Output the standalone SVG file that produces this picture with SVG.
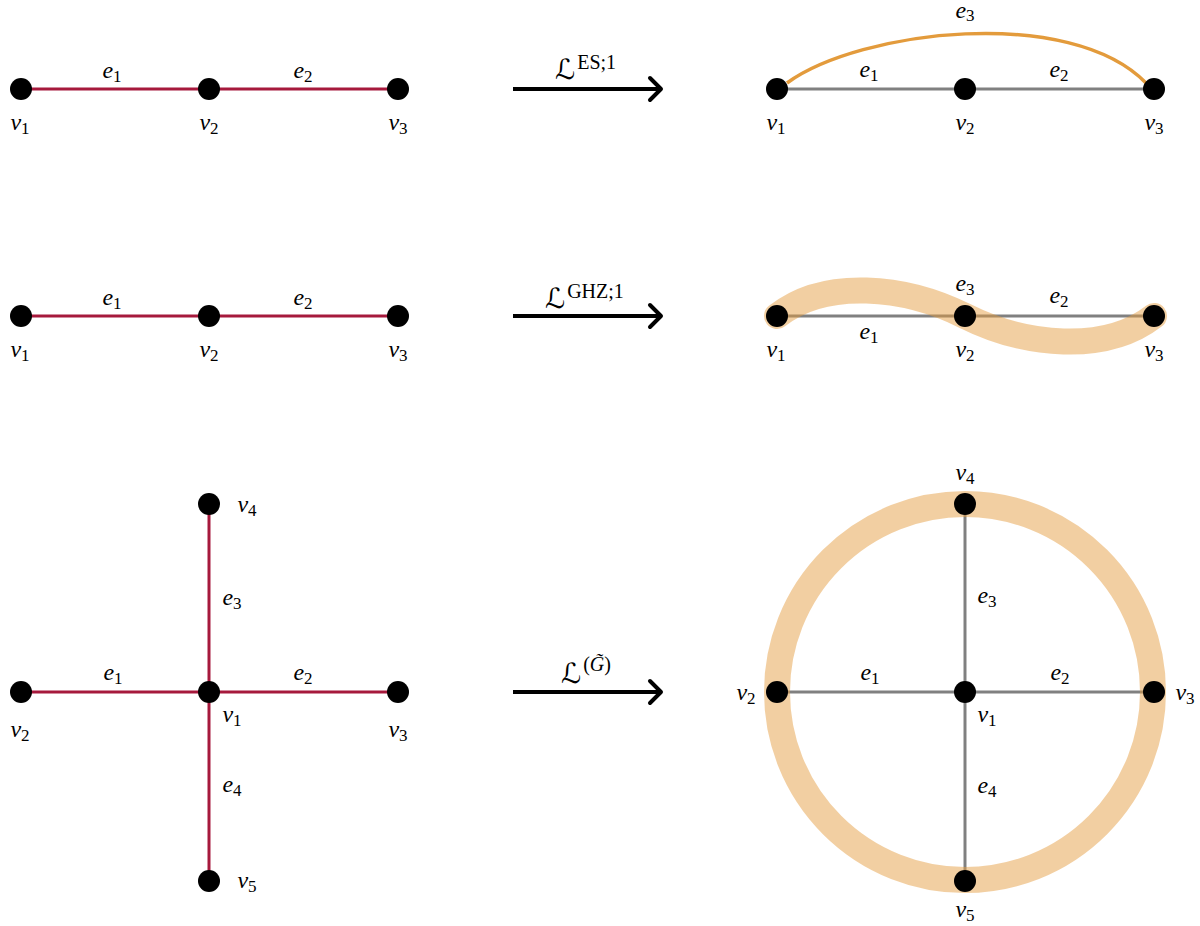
<svg xmlns="http://www.w3.org/2000/svg" width="1200" height="926" viewBox="0 0 1200 926">
<defs>
<style>
.bg{fill:#ffffff}
.n{fill:#000000}
.red{stroke:#A6193C;stroke-width:3;fill:none}
.gray{stroke:#808080;stroke-width:3;fill:none}
.es{stroke:#E39B3C;stroke-width:3.5;fill:none}
.hyp{stroke:#E39B3C;stroke-opacity:0.48;stroke-width:26;fill:none;stroke-linecap:round}
.arr{stroke:#000000;stroke-width:4;fill:none}
.lb{font-family:"Liberation Serif","Times New Roman",serif;font-style:italic;font-size:24px;fill:#000}
.sub{font-style:normal;font-size:17px}
.cal{font-family:"DejaVu Sans",sans-serif;font-style:normal;font-size:28px;fill:#000}
.sup{font-family:"Liberation Serif","Times New Roman",serif;font-style:normal;font-size:20px;fill:#000}
</style>
<marker id="head" markerUnits="userSpaceOnUse" markerWidth="24" markerHeight="30" refX="14" refY="13" orient="auto" overflow="visible">
<path d="M3,2 L14,13 L3,24" fill="none" stroke="#000" stroke-width="4" stroke-linecap="round" stroke-linejoin="round"/>
</marker>
</defs>
<rect class="bg" x="0" y="0" width="1200" height="926"/>

<g id="connectors">
<line class="red" x1="21" y1="89" x2="209" y2="89"/>
<line class="red" x1="209" y1="89" x2="398" y2="89"/>
<line class="gray" x1="777" y1="89" x2="965" y2="89"/>
<line class="gray" x1="965" y1="89" x2="1154" y2="89"/>
<path class="es" d="M787,83 C860,30 1070,5 1146,83"/>
<line class="red" x1="21" y1="316" x2="209" y2="316"/>
<line class="red" x1="209" y1="316" x2="398" y2="316"/>
<line class="gray" x1="777" y1="316" x2="965" y2="316"/>
<line class="gray" x1="965" y1="316" x2="1154" y2="316"/>
<path class="hyp" d="M777,316 C825,278 905,286 965,316 C1025,346 1105,354 1154,316"/>
<line class="red" x1="21" y1="692" x2="209" y2="692"/>
<line class="red" x1="209" y1="692" x2="398" y2="692"/>
<line class="red" x1="209" y1="504" x2="209" y2="692"/>
<line class="red" x1="209" y1="692" x2="209" y2="881"/>
<line class="gray" x1="777" y1="692" x2="965" y2="692"/>
<line class="gray" x1="965" y1="692" x2="1154" y2="692"/>
<line class="gray" x1="965" y1="504" x2="965" y2="692"/>
<line class="gray" x1="965" y1="692" x2="965" y2="881"/>
<circle class="hyp" cx="965" cy="692" r="188"/>
<line class="arr" x1="513" y1="89" x2="661" y2="89" marker-end="url(#head)"/>
<line class="arr" x1="513" y1="316" x2="661" y2="316" marker-end="url(#head)"/>
<line class="arr" x1="513" y1="692" x2="661" y2="692" marker-end="url(#head)"/>
</g>

<g id="edge-labels">
<text class="lb" x="112" y="78" text-anchor="middle">e<tspan class="sub" dy="4">1</tspan></text>
<text class="lb" x="303" y="78" text-anchor="middle">e<tspan class="sub" dy="4">2</tspan></text>
<text class="lb" x="869" y="77" text-anchor="middle">e<tspan class="sub" dy="4">1</tspan></text>
<text class="lb" x="1059" y="77" text-anchor="middle">e<tspan class="sub" dy="4">2</tspan></text>
<text class="lb" x="965" y="18" text-anchor="middle">e<tspan class="sub" dy="3">3</tspan></text>
<text class="lb" x="112" y="305" text-anchor="middle">e<tspan class="sub" dy="4">1</tspan></text>
<text class="lb" x="303" y="305" text-anchor="middle">e<tspan class="sub" dy="4">2</tspan></text>
<text class="lb" x="965" y="291" text-anchor="middle">e<tspan class="sub" dy="4">3</tspan></text>
<text class="lb" x="1059" y="303" text-anchor="middle">e<tspan class="sub" dy="4">2</tspan></text>
<text class="lb" x="869" y="339" text-anchor="middle">e<tspan class="sub" dy="4">1</tspan></text>
<text class="lb" x="113" y="680" text-anchor="middle">e<tspan class="sub" dy="4">1</tspan></text>
<text class="lb" x="303" y="680" text-anchor="middle">e<tspan class="sub" dy="4">2</tspan></text>
<text class="lb" x="232" y="605" text-anchor="middle">e<tspan class="sub" dy="4">3</tspan></text>
<text class="lb" x="232" y="792" text-anchor="middle">e<tspan class="sub" dy="4">4</tspan></text>
<text class="lb" x="870" y="680" text-anchor="middle">e<tspan class="sub" dy="4">1</tspan></text>
<text class="lb" x="1060" y="680" text-anchor="middle">e<tspan class="sub" dy="4">2</tspan></text>
<text class="lb" x="987" y="603" text-anchor="middle">e<tspan class="sub" dy="4">3</tspan></text>
<text class="lb" x="987" y="793" text-anchor="middle">e<tspan class="sub" dy="4">4</tspan></text>
</g>

<g id="arrow-labels">
<text x="555" y="79"><tspan class="cal">ℒ</tspan><tspan class="sup" dx="2" dy="-10">ES;1</tspan></text>
<text x="545" y="308"><tspan class="cal">ℒ</tspan><tspan class="sup" dx="2" dy="-10">GHZ;1</tspan></text>
<text x="561" y="683"><tspan class="cal">ℒ</tspan><tspan class="sup" dx="2" dy="-12">(<tspan font-style="italic">G̃</tspan>)</tspan></text>
</g>

<g id="r1l-v1"><circle class="n" cx="21" cy="89" r="11"/><text class="lb" x="20" y="130" text-anchor="middle">v<tspan class="sub" dy="4">1</tspan></text></g>
<g id="r1l-v2"><circle class="n" cx="209" cy="89" r="11"/><text class="lb" x="209" y="130" text-anchor="middle">v<tspan class="sub" dy="4">2</tspan></text></g>
<g id="r1l-v3"><circle class="n" cx="398" cy="89" r="11"/><text class="lb" x="398" y="130" text-anchor="middle">v<tspan class="sub" dy="4">3</tspan></text></g>
<g id="r1r-v1"><circle class="n" cx="777" cy="89" r="11"/><text class="lb" x="776" y="130" text-anchor="middle">v<tspan class="sub" dy="4">1</tspan></text></g>
<g id="r1r-v2"><circle class="n" cx="965" cy="89" r="11"/><text class="lb" x="965" y="130" text-anchor="middle">v<tspan class="sub" dy="4">2</tspan></text></g>
<g id="r1r-v3"><circle class="n" cx="1154" cy="89" r="11"/><text class="lb" x="1154" y="130" text-anchor="middle">v<tspan class="sub" dy="4">3</tspan></text></g>
<g id="r2l-v1"><circle class="n" cx="21" cy="316" r="11"/><text class="lb" x="20" y="357" text-anchor="middle">v<tspan class="sub" dy="4">1</tspan></text></g>
<g id="r2l-v2"><circle class="n" cx="209" cy="316" r="11"/><text class="lb" x="209" y="357" text-anchor="middle">v<tspan class="sub" dy="4">2</tspan></text></g>
<g id="r2l-v3"><circle class="n" cx="398" cy="316" r="11"/><text class="lb" x="398" y="357" text-anchor="middle">v<tspan class="sub" dy="4">3</tspan></text></g>
<g id="r2r-v1"><circle class="n" cx="777" cy="316" r="11"/><text class="lb" x="776" y="357" text-anchor="middle">v<tspan class="sub" dy="4">1</tspan></text></g>
<g id="r2r-v2"><circle class="n" cx="965" cy="316" r="11"/><text class="lb" x="965" y="357" text-anchor="middle">v<tspan class="sub" dy="4">2</tspan></text></g>
<g id="r2r-v3"><circle class="n" cx="1154" cy="316" r="11"/><text class="lb" x="1154" y="357" text-anchor="middle">v<tspan class="sub" dy="4">3</tspan></text></g>
<g id="r3l-v1"><circle class="n" cx="209" cy="692" r="11"/><text class="lb" x="232" y="722" text-anchor="middle">v<tspan class="sub" dy="4">1</tspan></text></g>
<g id="r3l-v2"><circle class="n" cx="21" cy="692" r="11"/><text class="lb" x="20" y="737" text-anchor="middle">v<tspan class="sub" dy="4">2</tspan></text></g>
<g id="r3l-v3"><circle class="n" cx="398" cy="692" r="11"/><text class="lb" x="398" y="737" text-anchor="middle">v<tspan class="sub" dy="4">3</tspan></text></g>
<g id="r3l-v4"><circle class="n" cx="209" cy="504" r="11"/><text class="lb" x="247" y="512" text-anchor="middle">v<tspan class="sub" dy="4">4</tspan></text></g>
<g id="r3l-v5"><circle class="n" cx="209" cy="881" r="11"/><text class="lb" x="247" y="888" text-anchor="middle">v<tspan class="sub" dy="4">5</tspan></text></g>
<g id="r3r-v1"><circle class="n" cx="965" cy="692" r="11"/><text class="lb" x="987" y="722" text-anchor="middle">v<tspan class="sub" dy="4">1</tspan></text></g>
<g id="r3r-v2"><circle class="n" cx="777" cy="692" r="11"/><text class="lb" x="746" y="700" text-anchor="middle">v<tspan class="sub" dy="4">2</tspan></text></g>
<g id="r3r-v3"><circle class="n" cx="1154" cy="692" r="11"/><text class="lb" x="1185" y="700" text-anchor="middle">v<tspan class="sub" dy="4">3</tspan></text></g>
<g id="r3r-v4"><circle class="n" cx="965" cy="504" r="11"/><text class="lb" x="965" y="480" text-anchor="middle">v<tspan class="sub" dy="4">4</tspan></text></g>
<g id="r3r-v5"><circle class="n" cx="965" cy="881" r="11"/><text class="lb" x="965" y="917" text-anchor="middle">v<tspan class="sub" dy="4">5</tspan></text></g>
</svg>
